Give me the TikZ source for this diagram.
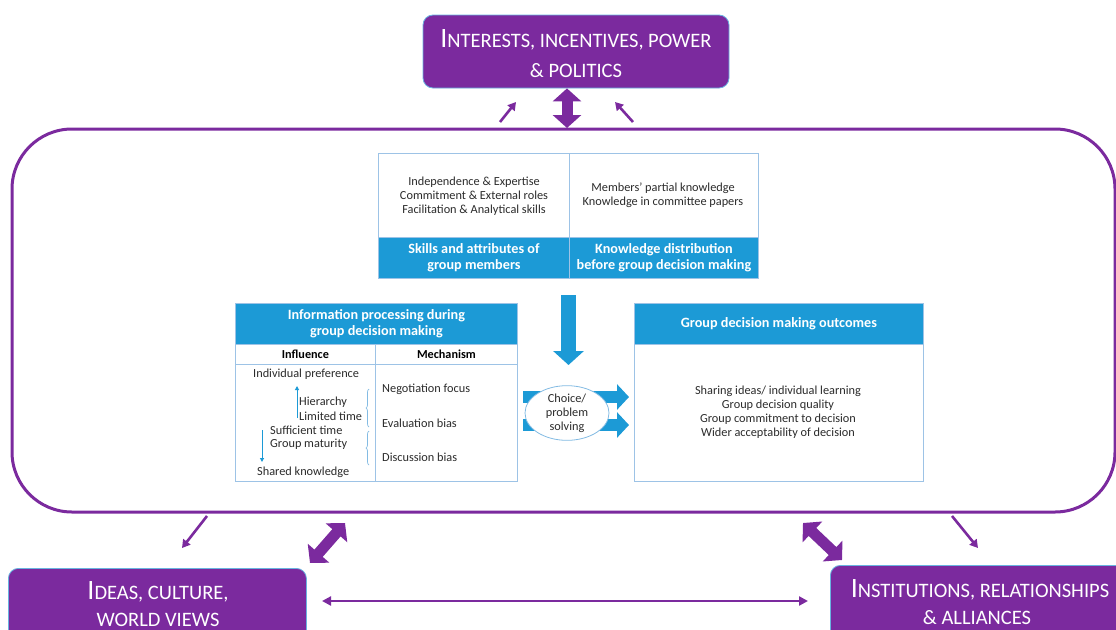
\documentclass[tikz,border=0pt]{standalone}
\usepackage{fontspec}
\setmainfont{Carlito}
\usetikzlibrary{arrows.meta,decorations.pathreplacing,shapes.geometric}
\definecolor{pur}{HTML}{7B2A9E}
\definecolor{blu}{HTML}{1C9AD6}
\definecolor{lbl}{HTML}{9DC3E6}
\definecolor{txtc}{HTML}{2B2B2B}
\newcommand\capfirst[2]{{\fontsize{28}{30}\selectfont #1}#2}
\begin{document}
\begin{tikzpicture}[x=1pt,y=-1pt,
  pbox/.style={draw=lbl!60!blu, line width=0.8pt, fill=pur, rounded corners=10pt, inner sep=0pt},
  ptext/.style={text=white, font=\fontsize{20.5}{28}\selectfont, inner sep=0pt, anchor=base},
  cell/.style={draw=lbl, line width=0.9pt, fill=white, inner sep=0pt, anchor=north west},
  band/.style={draw=lbl, line width=0.9pt, fill=blu, inner sep=0pt, anchor=north west, text=white,
     font=\bfseries\fontsize{14.2}{16}\selectfont, align=center},
  colhead/.style={draw=lbl, line width=0.9pt, fill=white, inner sep=0pt, anchor=north west, text=black,
     font=\bfseries\fontsize{12.2}{13}\selectfont},
  body/.style={text=txtc, font=\fontsize{12.3}{14}\selectfont, align=center, inner sep=0pt},
  item/.style={text=txtc, font=\fontsize{12.3}{14}\selectfont, inner sep=0pt, anchor=west},
  thinarrow/.style={draw=pur, line width=2.6pt, -{Triangle[width=9pt,length=8pt]}},
  fatarrow/.style={draw=pur, line width=11pt, {Triangle[width=28pt,length=13pt]}-{Triangle[width=28pt,length=13pt]}},
  longarrow/.style={draw=pur, line width=2.4pt, {Triangle[width=9pt,length=9pt]}-{Triangle[width=9pt,length=9pt]}},
  blockdown/.style={draw=blu, line width=15pt, -{Triangle[width=30pt,length=14pt]}},
  blockright/.style={draw=blu, line width=12pt, -{Triangle[width=25pt,length=12pt]}},
  smallarrow/.style={draw=blu, line width=1pt, -{Triangle[width=4pt,length=4pt]}},
  bracestyle/.style={draw=lbl!80!blu, line width=0.7pt, decorate, decoration={brace, amplitude=3pt}}
]
\useasboundingbox (0,0) rectangle (1116,629);
\clip (0,0) rectangle (1116,629);

% outer frame
\node[draw=pur, line width=3pt, rounded corners=60pt, minimum width=1103pt, minimum height=383pt, inner sep=0pt] (frame) at (563.5,320.5) {};

% top purple box
\node[pbox, minimum width=306pt, minimum height=73pt] (interests) at (576,51.5) {};
\node[ptext] (interestsA) at (576,47.5) {\capfirst{I}{NTERESTS, INCENTIVES, POWER}};
\node[ptext] (interestsB) at (576,77) {\& POLITICS};

% bottom purple boxes
\node[pbox, minimum width=298pt, minimum height=80pt, anchor=north west] (ideas) at (8,568) {};
\node[ptext] (ideasA) at (158,599) {\capfirst{I}{DEAS, CULTURE,}};
\node[ptext] (ideasB) at (158,626) {WORLD VIEWS};
\node[pbox, minimum width=300pt, minimum height=80pt, anchor=north west] (inst) at (830,565) {};
\node[ptext] (instA) at (980,597) {\capfirst{I}{NSTITUTIONS, RELATIONSHIPS}};
\node[ptext] (instB) at (977,624) {\& ALLIANCES};

% purple connectors
\coordinate (tA1) at (500,122); \coordinate (tA2) at (516,102);
\coordinate (tB1) at (633,122); \coordinate (tB2) at (615,102);
\draw[thinarrow] (tA1) -- (tA2);
\draw[thinarrow] (tB1) -- (tB2);
\draw[fatarrow] (interests.south -| 567,0) -- (567,128);

\coordinate (bA1) at (207,516); \coordinate (bA2) at (182,548);
\coordinate (bB1) at (952,516); \coordinate (bB2) at (978,548);
\draw[thinarrow] (bA1) -- (bA2);
\draw[thinarrow] (bB1) -- (bB2);
\coordinate (bC1) at (345,523); \coordinate (bC2) at (310,563);
\coordinate (bD1) at (803,523); \coordinate (bD2) at (842,560);
\draw[fatarrow] (bC1) -- (bC2);
\draw[fatarrow] (bD1) -- (bD2);
\coordinate (hL) at (322,601); \coordinate (hR) at (808,601);
\draw[longarrow] (hL) -- (hR);

% top table
\node[cell, minimum width=191pt, minimum height=84pt] (skillsbox) at (378,153) {};
\node[cell, minimum width=189pt, minimum height=84pt] (knowbox) at (569,153) {};
\node[band, minimum width=191pt, minimum height=41pt] (skillshead) at (378,237) {Skills and attributes of\\group members};
\node[band, minimum width=189pt, minimum height=41pt] (knowhead) at (569,237) {Knowledge distribution\\before group decision making};
\node[body] (skills) at (474,196) {Independence \& Expertise\\Commitment \& External roles\\Facilitation \& Analytical skills};
\node[body] (know) at (663,195) {Members’ partial knowledge\\Knowledge in committee papers};

% left table
\node[band, minimum width=282pt, minimum height=41pt] (infohead) at (235,303) {Information processing during\\group decision making};
\node[colhead, minimum width=140pt, minimum height=20pt] (inflhead) at (235,344) {Influence};
\node[colhead, minimum width=142pt, minimum height=20pt] (mechhead) at (375,344) {Mechanism};
\node[cell, minimum width=140pt, minimum height=117pt] (inflbody) at (235,364) {};
\node[cell, minimum width=142pt, minimum height=117pt] (mechbody) at (375,364) {};
\node[item] (i1) at (253,374) {Individual preference};
\node[item] (i2) at (299,402) {Hierarchy};
\node[item] (i3) at (299,416) {Limited time};
\node[item] (i4) at (270,430) {Sufficient time};
\node[item] (i5) at (270,444) {Group maturity};
\node[item] (i6) at (257,472) {Shared knowledge};
\node[item] (m1) at (382,389) {Negotiation focus};
\node[item] (m2) at (382,423) {Evaluation bias};
\node[item] (m3) at (382,457) {Discussion bias};
\coordinate (upS) at (297,418); \coordinate (upE) at (297,386);
\coordinate (dnS) at (262,430); \coordinate (dnE) at (262,462);
\draw[smallarrow] (upS) -- (upE);
\draw[smallarrow] (dnS) -- (dnE);
\coordinate (br1a) at (369,427); \coordinate (br1b) at (369,389);
\coordinate (br2a) at (369,465); \coordinate (br2b) at (369,431);
\draw[bracestyle] (br1a) -- (br1b);
\draw[bracestyle] (br2a) -- (br2b);

% right table
\node[band, minimum width=289pt, minimum height=41pt] (outhead) at (634,303) {Group decision making outcomes};
\node[cell, minimum width=289pt, minimum height=137pt] (outbody) at (634,344) {};
\node[body] (outtext) at (778,412) {Sharing ideas/ individual learning\\Group decision quality\\Group commitment to decision\\Wider acceptability of decision};

% blue block arrows and ellipse
\coordinate (dS) at (568.5,295); \coordinate (dE) at (568.5,365);
\draw[blockdown] (dS) -- (dE);
\coordinate (r1S) at (523,397); \coordinate (r1E) at (629,397);
\coordinate (r2S) at (523,425); \coordinate (r2E) at (629,425);
\draw[blockright] (r1S) -- (r1E);
\draw[blockright] (r2S) -- (r2E);
\node[ellipse, draw=lbl!80!blu, line width=0.8pt, fill=white, minimum width=84pt, minimum height=51pt, inner sep=0pt,
  text=txtc, font=\fontsize{12.3}{14}\selectfont, align=center] (choice) at (567,413) {Choice/\\problem\\solving};
\end{tikzpicture}
\end{document}
